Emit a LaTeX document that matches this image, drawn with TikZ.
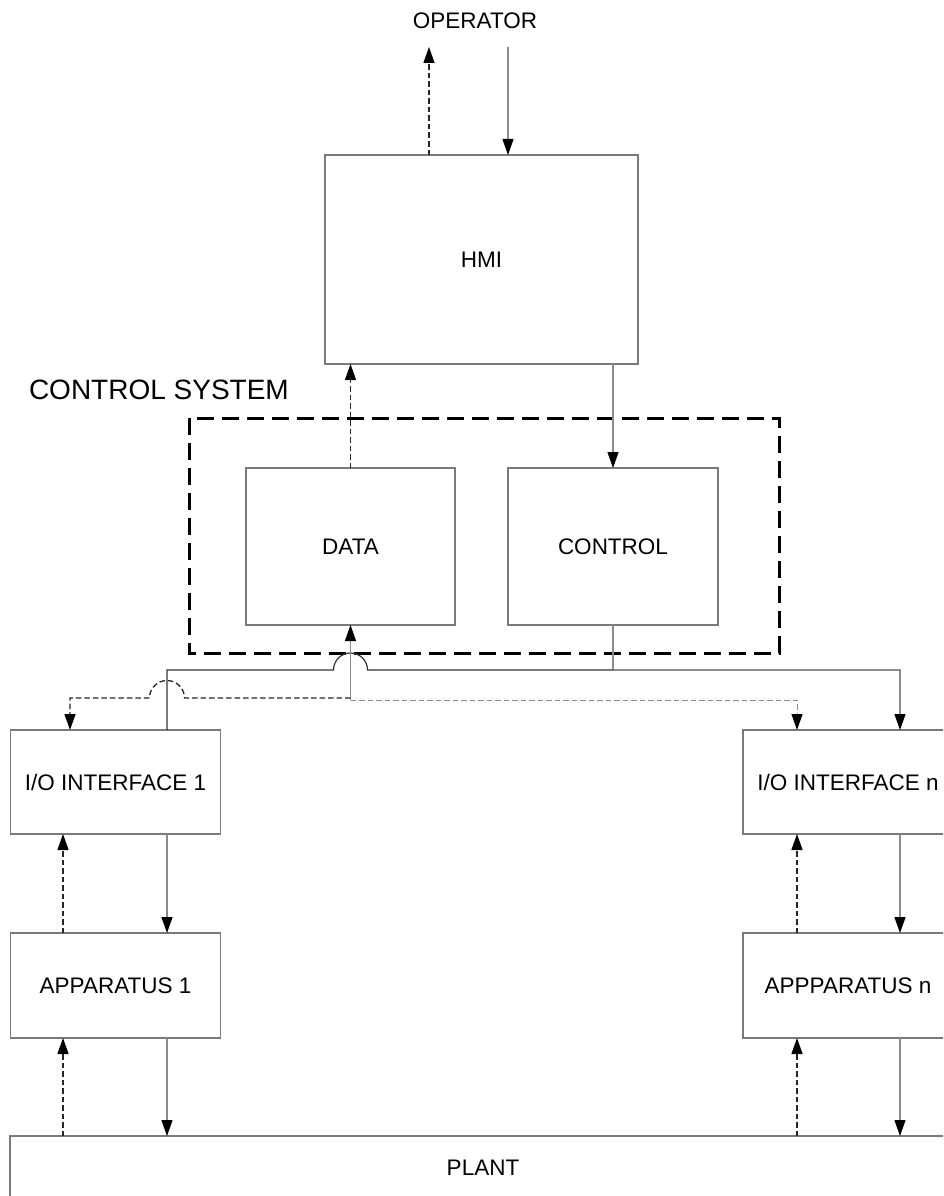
\documentclass[tikz,border=0pt]{standalone}
\usepackage{fontspec}
\setmainfont{Liberation Sans}
\usetikzlibrary{arrows.meta,calc}
\definecolor{boxgray}{HTML}{7A7A7A}
\definecolor{linegray}{HTML}{8C8C8C}
\begin{document}
\begin{tikzpicture}[x=1pt,y=-1pt,
  lbl/.style={inner sep=0pt,outer sep=0pt,font=\fontsize{22.5}{27}\selectfont},
  box/.style={lbl,draw=boxgray,line width=1.3pt},
  tip/.style={-{Triangle[length=16pt,width=11pt,color=black]}},
  sig/.style={draw=linegray,line width=1.2pt},
  sigdark/.style={draw=black!80,line width=1.2pt},
  sigarrow/.style={sig,tip},
  meas/.style={draw=black!85,line width=1.3pt,dash pattern=on 5.5pt off 3pt},
  measarrow/.style={meas,tip},
  measthin/.style={draw=linegray,line width=1pt,dash pattern=on 5.5pt off 3pt,tip},
  sysframe/.style={draw=black,line width=3pt,dash pattern=on 17pt off 8pt}]

\clip (0,0) rectangle (943,1196);
\fill[white] (0,0) rectangle (943,1196);

% labels
\node[lbl] (operator) at (475,21) {OPERATOR};
\node[lbl,anchor=west,font=\fontsize{28}{33}\selectfont] (cslabel) at (29,390) {CONTROL SYSTEM};

% blocks
\node[box,minimum width=313pt,minimum height=209pt] (hmi) at (481.5,259.5) {HMI};
\node[box,minimum width=209pt,minimum height=157pt] (data) at (350.5,546.5) {DATA};
\node[box,minimum width=210pt,minimum height=157pt] (control) at (613,546.5) {CONTROL};
\node[box,minimum width=210pt,minimum height=104pt] (io1) at (115.5,782) {I/O INTERFACE 1};
\node[box,minimum width=210pt,minimum height=104pt] (ion) at (848,782) {I/O INTERFACE n};
\node[box,minimum width=210pt,minimum height=105pt] (app1) at (115.5,985.5) {APPARATUS 1};
\node[box,minimum width=210pt,minimum height=105pt] (appn) at (848,985.5) {APPPARATUS n};
\node[box,minimum width=946pt,minimum height=64pt] (plant) at (483,1168) {PLANT};

% control system boundary
\draw[sysframe] (189,418) rectangle (779,653);

% lanes and bus levels
\coordinate (opup) at (429,47);
\coordinate (opdown) at (508,47);
\coordinate (lA) at (63,0);
\coordinate (lB) at (167,0);
\coordinate (lC) at (70,0);
\coordinate (rA) at (797,0);
\coordinate (rB) at (900,0);
\coordinate (cbus) at (0,670);
\coordinate (dbusL) at (0,698);
\coordinate (dbusR) at (0,700);
\coordinate (junc) at (data.south |- dbusR);

% operator <-> HMI
\draw[measarrow] (opup |- hmi.north) -- (opup);
\draw[sigarrow] (opdown) -- (opdown |- hmi.north);

% HMI <-> control system
\draw[measarrow] (data.north) -- (data.north |- hmi.south);
\draw[sigarrow] (control.north |- hmi.south) -- (control.north);

% commands from CONTROL to the interfaces
\draw[sig] (control.south) -- (control.south |- cbus);
\draw[sigdark] (control.south |- cbus)
  -- ($(data.south |- cbus)+(17,0)$) arc[start angle=0,end angle=-180,radius=17]
  -- (lB |- cbus) -- (lB |- io1.north);
\draw[sigarrow] (control.south |- cbus) -| (rB |- ion.north);

% data collected from the interfaces
\draw[sigarrow] (junc) -- (data.south);
\draw[measarrow] (data.south |- dbusL)
  -- ($(lB |- dbusL)+(17.5,0)$) arc[start angle=0,end angle=-180,radius=17.5]
  -- (lC |- dbusL) -- (lC |- io1.north);
\draw[measthin] (junc) -| (rA |- ion.north);

% interface <-> apparatus
\draw[measarrow] (lA |- app1.north) -- (lA |- io1.south);
\draw[sigarrow] (lB |- io1.south) -- (lB |- app1.north);
\draw[measarrow] (rA |- appn.north) -- (rA |- ion.south);
\draw[sigarrow] (rB |- ion.south) -- (rB |- appn.north);

% apparatus <-> plant
\draw[measarrow] (lA |- plant.north) -- (lA |- app1.south);
\draw[sigarrow] (lB |- app1.south) -- (lB |- plant.north);
\draw[measarrow] (rA |- plant.north) -- (rA |- appn.south);
\draw[sigarrow] (rB |- appn.south) -- (rB |- plant.north);
\end{tikzpicture}
\end{document}
